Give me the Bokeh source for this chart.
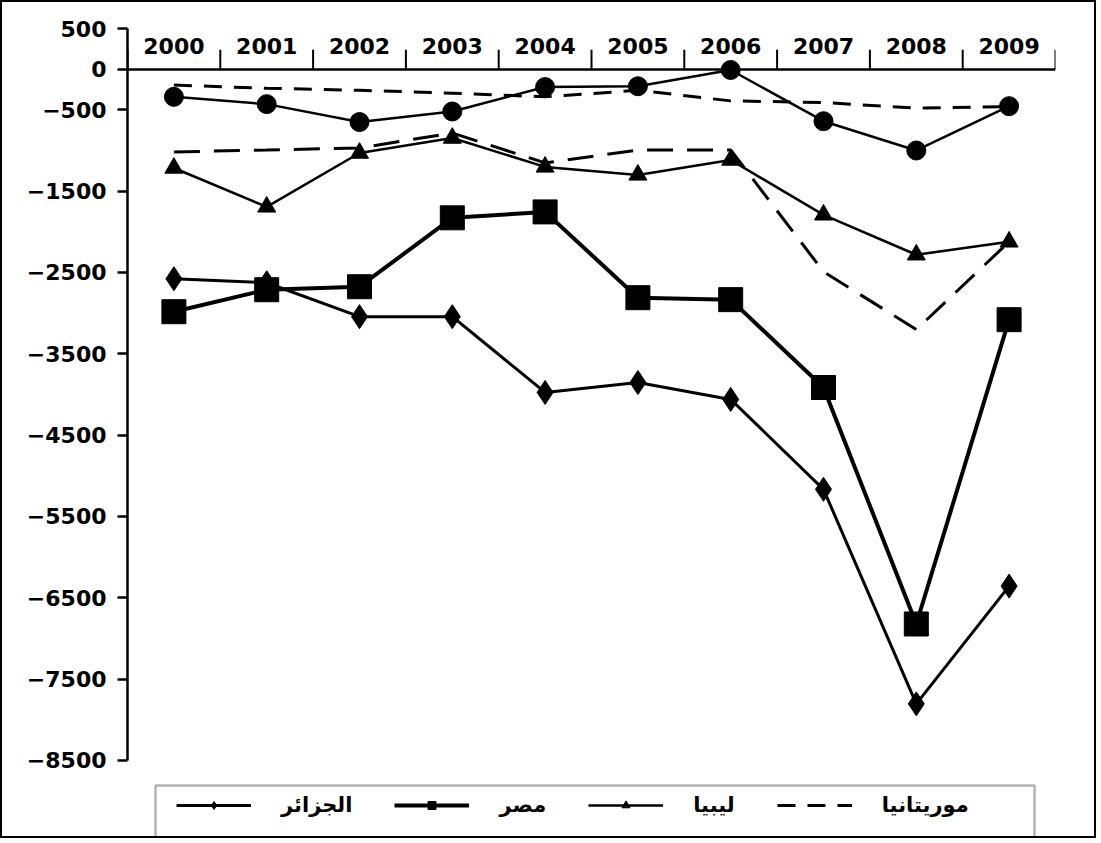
from bokeh.plotting import figure
from bokeh.models import (FactorRange, Range1d, CategoricalAxis,
                          FixedTicker, Legend, LegendItem, BoxAnnotation)
from bokeh.embed import file_html
from bokeh.resources import INLINE

# ---------------- data ----------------
years = ["2000", "2001", "2002", "2003", "2004", "2005", "2006", "2007", "2008", "2009"]

algeria = [-2577, -2626, -3043, -3043, -3975, -3853, -4061, -5166, -7804, -6356]      # diamonds
egypt = [-2982, -2712, -2675, -1828, -1755, -2810, -2834, -3914, -6822, -3080]        # squares
libya = [-1215, -1693, -1031, -847, -1202, -1300, -1117, -1791, -2282, -2123]         # triangles
mauritania = [-195, -235, -260, -295, -340, -260, -390, -410, -480, -460]             # dashed (upper)
series_circles = [-340, -430, -650, -520, -220, -210, -10, -640, -1000, -455]         # circles (no legend entry)
series_dash2 = [-1018, -994, -969, -785, -1153, -994, -994, -2490, -3202, -2123]      # dashed (lower, no legend entry)

y_ticks = [500, 0, -500, -1500, -2500, -3500, -4500, -5500, -6500, -7500, -8500]
legend_labels = ["الجزائر", "مصر", "ليبيا", "موريتانيا"]

FONT = "DejaVu Sans"

# the frame reaches the bottom of the canvas so that the legend box below the axis is drawn
p = figure(width=1096, height=838,
           x_range=FactorRange(*years), y_range=Range1d(-9484, 500),
           output_backend="svg", toolbar_location=None,
           x_axis_location=None, y_axis_location="left",
           min_border_left=125, min_border_right=43,
           min_border_top=26, min_border_bottom=0)
p.styles = {"border": "2px solid black"}
p.outline_line_color = None
p.grid.grid_line_color = None
p.background_fill_color = "white"
p.border_fill_color = "white"

# y axis
ya = p.yaxis[0]
ya.bounds = (-8500, 500)
ya.ticker = FixedTicker(ticks=y_ticks)
ya.major_tick_out = 10
ya.major_tick_in = 0
ya.minor_tick_line_color = None
ya.axis_line_width = 2.5
ya.major_tick_line_width = 2.5
ya.axis_line_color = "black"
ya.major_label_text_font = FONT
ya.major_label_text_font_style = "bold"
ya.major_label_text_font_size = "22px"
ya.major_label_text_color = "black"
ya.major_label_standoff = 11

# year axis along the zero line
cat_axis = CategoricalAxis(fixed_location=0, major_tick_line_color=None,
                           axis_line_color="black", axis_line_width=2.5,
                           major_label_standoff=9,
                           major_label_text_font=FONT,
                           major_label_text_font_style="bold",
                           major_label_text_font_size="22px",
                           major_label_text_color="black")
p.add_layout(cat_axis, "above")

# separator ticks between the year categories (at category boundaries)
sep_x = [(yr, -0.5) for yr in years] + [(years[-1], 0.5)]
p.segment(x0=sep_x, y0=[0] * len(sep_x), x1=sep_x, y1=[240] * len(sep_x),
          line_color="black", line_width=2)

# series
r_dz_l = p.line(years, algeria, line_width=3, color="black")
r_dz_m = p.scatter(years, algeria, marker="diamond", size=24, color="black")

r_eg_l = p.line(years, egypt, line_width=4, color="black")
r_eg_m = p.scatter(years, egypt, marker="square", size=24, color="black")

r_ly_l = p.line(years, libya, line_width=2.5, color="black")
r_ly_m = p.scatter(years, libya, marker="triangle", size=18, color="black")

r_mr_l = p.line(years, mauritania, line_width=3, color="black", line_dash="18 12")

p.line(years, series_circles, line_width=2.5, color="black")
p.scatter(years, series_circles, marker="circle", size=19, color="black")

p.line(years, series_dash2, line_width=3, color="black", line_dash="26 14")

legend = Legend(items=[
    LegendItem(label=legend_labels[0], renderers=[r_dz_l, r_dz_m]),
    LegendItem(label=legend_labels[1], renderers=[r_eg_l, r_eg_m]),
    LegendItem(label=legend_labels[2], renderers=[r_ly_l, r_ly_m]),
    LegendItem(label=legend_labels[3], renderers=[r_mr_l]),
], orientation="horizontal", location=(49, 23),
   glyph_width=75, glyph_height=20, label_standoff=30, spacing=42,
   padding=18, margin=0, border_line_color=None, background_fill_alpha=0,
   label_text_font=FONT, label_text_font_style="bold",
   label_text_font_size="21px", label_text_color="black")
p.add_layout(legend, "center")

# legend frame
p.add_layout(BoxAnnotation(left=151, right=1030, top=781, bottom=870,
                           left_units="canvas", right_units="canvas",
                           top_units="canvas", bottom_units="canvas",
                           fill_alpha=0, line_color="black", line_width=2.5))

open("out.html", "w").write(file_html(p, INLINE))
